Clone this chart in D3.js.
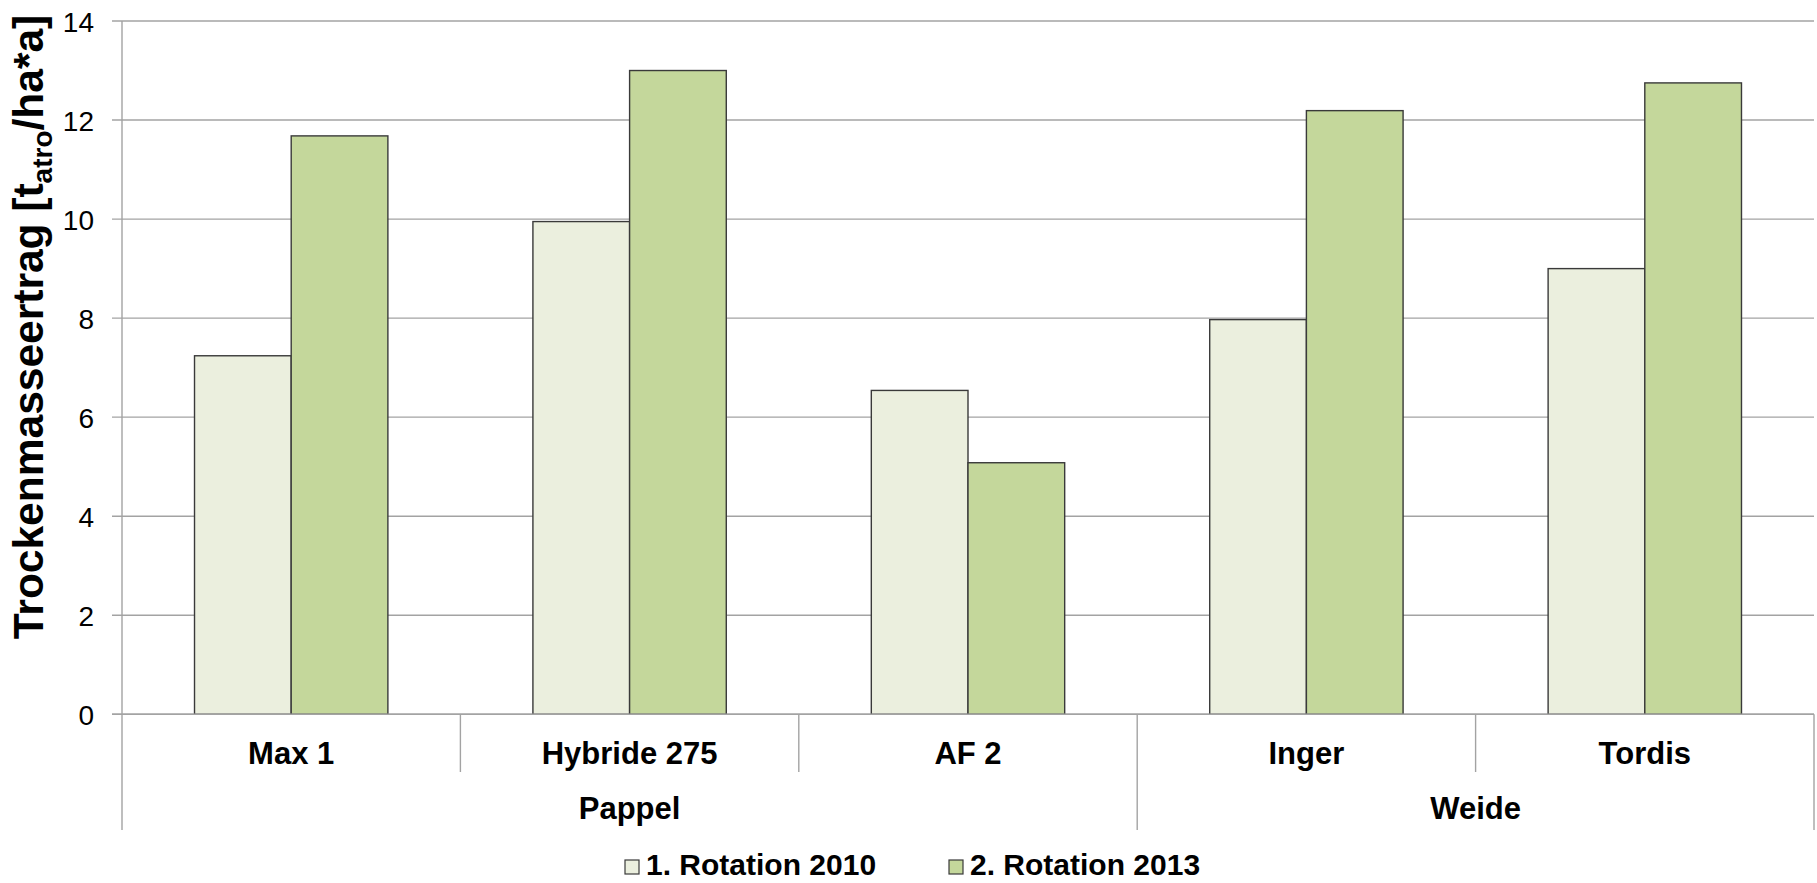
<!DOCTYPE html>
<html><head><meta charset="utf-8">
<script src="https://cdn.jsdelivr.net/npm/d3@7"></script>
<style>body{margin:0;background:#fff;} svg{display:block;font-family:"Liberation Sans",Arial,sans-serif;}</style>
</head><body>
<svg id="chart" width="1817" height="883"></svg>
<script>
const categories = ["Max 1", "Hybride 275", "AF 2", "Inger", "Tordis"];
const groups = [
  {name: "Pappel", members: ["Max 1", "Hybride 275", "AF 2"]},
  {name: "Weide", members: ["Inger", "Tordis"]}
];
const seriesNames = ["1. Rotation 2010", "2. Rotation 2013"];
const rotation2010 = [7.24, 9.95, 6.54, 7.97, 9.0];
const rotation2013 = [11.68, 13.0, 5.08, 12.19, 12.75];
const yTicks = [0, 2, 4, 6, 8, 10, 12, 14];
const colors = ["#EBEFDE", "#C4D79B"];

(function () {
const svg = d3.select("#chart");
const pLeft = 122, pRight = 1814, pTop = 21, pBottom = 714.3;
const catBottom = 772, groupBottom = 830;

const x = d3.scaleBand().domain(categories).range([pLeft, pRight]).paddingInner(0).paddingOuter(0);
const xs = d3.scaleBand().domain(seriesNames).range([0, x.bandwidth()]).paddingInner(0).paddingOuter(0.75);
const y = d3.scaleLinear().domain([0, 14]).range([pBottom, pTop]);

const data = categories.map((c, i) => ({cat: c, vals: [rotation2010[i], rotation2013[i]]}));

// gridlines
svg.append("g").selectAll("line").data(yTicks).join("line")
  .attr("x1", pLeft - 10).attr("x2", pRight)
  .attr("y1", d => y(d)).attr("y2", d => y(d))
  .attr("stroke", "#a3a3a3").attr("stroke-width", 1.4);

// y axis tick labels
const yAxis = d3.axisLeft(y).tickValues(yTicks).tickSize(0).tickPadding(28).tickFormat(d3.format("d"));
const ya = svg.append("g").attr("transform", `translate(${pLeft},0)`).call(yAxis);
ya.select(".domain").remove();
ya.selectAll("text").attr("font-size", 28).attr("fill", "#000").attr("font-family", "Liberation Sans, Arial, sans-serif").attr("dy", "0.36em");

// bars
const bg = svg.append("g");
data.forEach(d => {
  bg.append("g").selectAll("rect").data(d.vals).join("rect")
    .attr("x", (v, j) => x(d.cat) + xs(seriesNames[j]))
    .attr("y", v => y(v))
    .attr("width", xs.bandwidth())
    .attr("height", v => y(0) - y(v))
    .attr("fill", (v, j) => colors[j])
    .attr("stroke", "#3a3a3a").attr("stroke-width", 1.4);
});

// axes lines
const axisColor = "#a3a3a3";
svg.append("line").attr("x1", pLeft).attr("x2", pLeft).attr("y1", pTop).attr("y2", groupBottom)
  .attr("stroke", axisColor).attr("stroke-width", 1.4);
svg.append("line").attr("x1", pLeft - 10).attr("x2", pRight).attr("y1", pBottom).attr("y2", pBottom)
  .attr("stroke", axisColor).attr("stroke-width", 1.4);

// category dividers
const groupEdges = new Set();
let acc = 0;
groups.forEach(g => { acc += g.members.length; groupEdges.add(acc); });
for (let i = 1; i <= categories.length; i++) {
  const xx = i < categories.length ? x(categories[i]) : pRight;
  const isGroup = groupEdges.has(i);
  svg.append("line").attr("x1", xx).attr("x2", xx).attr("y1", pBottom).attr("y2", isGroup ? groupBottom : catBottom)
    .attr("stroke", axisColor).attr("stroke-width", 1.4);
}

// category labels
svg.append("g").selectAll("text").data(categories).join("text")
  .attr("x", d => x(d) + x.bandwidth() / 2).attr("y", 764)
  .attr("text-anchor", "middle").attr("font-size", 31).attr("font-weight", "bold").attr("fill", "#000")
  .text(d => d);

// group labels
groups.forEach(g => {
  const x0 = x(g.members[0]);
  const x1 = x(g.members[g.members.length - 1]) + x.bandwidth();
  svg.append("text").attr("x", (x0 + x1) / 2).attr("y", 819)
    .attr("text-anchor", "middle").attr("font-size", 31).attr("font-weight", "bold").attr("fill", "#000")
    .text(g.name);
});

// y title
const yt = svg.append("text")
  .attr("transform", `translate(43,327) rotate(-90)`)
  .attr("text-anchor", "middle").attr("font-size", 42.5).attr("font-weight", "bold").attr("fill", "#000");
yt.append("tspan").text("Trockenmasseertrag [t");
yt.append("tspan").attr("font-size", 28).attr("dy", 9).text("atro");
yt.append("tspan").attr("dy", -9).text("/ha*a]");

// legend
const legendItems = [{name: seriesNames[0], x: 625}, {name: seriesNames[1], x: 949}];
legendItems.forEach((it, i) => {
  svg.append("rect").attr("x", it.x).attr("y", 860).attr("width", 14).attr("height", 14)
    .attr("fill", colors[i]).attr("stroke", "#3a3a3a").attr("stroke-width", 1.2);
  svg.append("text").attr("x", it.x + 21).attr("y", 875).attr("font-size", 30).attr("font-weight", "bold")
    .attr("fill", "#000").text(it.name);
});
})();
</script>
</body></html>
